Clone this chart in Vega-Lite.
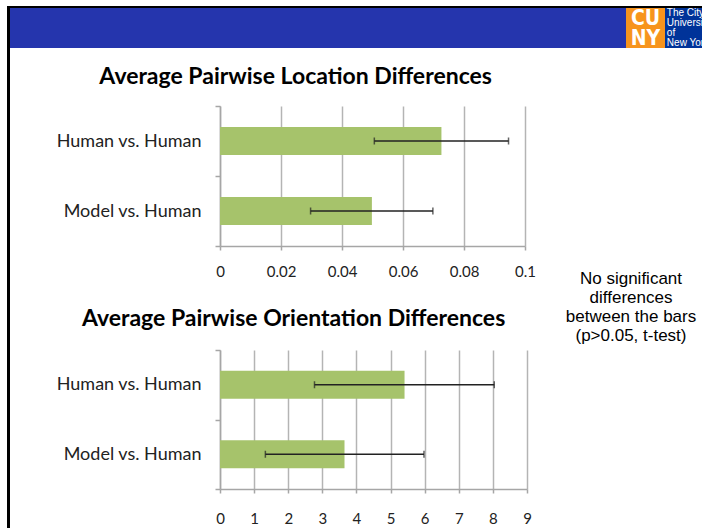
{
  "$schema": "https://vega.github.io/schema/vega-lite/v6.json",
  "padding": {"left": 7, "top": 6, "right": 0, "bottom": 0},
  "background": "white",
  "spacing": 0,
  "datasets": {
    "loc": [
      {"cat": "Human vs. Human", "mean": 0.0726, "lo": 0.0506, "hi": 0.0946},
      {"cat": "Model vs. Human", "mean": 0.0498, "lo": 0.0297, "hi": 0.0698}
    ],
    "ori": [
      {"cat": "Human vs. Human", "mean": 5.41, "lo": 2.77, "hi": 8.04},
      {"cat": "Model vs. Human", "mean": 3.65, "lo": 1.33, "hi": 5.98}
    ]
  },
  "config": {
    "view": {"stroke": null},
    "font": "Lato",
    "axisX": {
      "grid": true, "gridColor": "#b4b4b4", "gridWidth": 1.5,
      "domainColor": "#a6a6a6", "domainWidth": 1.5,
      "tickColor": "#a6a6a6", "tickWidth": 1.5, "tickSize": 4,
      "labelFont": "Lato", "labelFontSize": 15, "labelColor": "#222222", "labelPadding": 14,
      "labelFlush": false, "labelOverlap": false,
      "title": null
    },
    "axisY": {
      "grid": false,
      "domainColor": "#a6a6a6", "domainWidth": 1.5,
      "tickColor": "#a6a6a6", "tickWidth": 1.5, "tickSize": 5, "tickBand": "extent",
      "labelFont": "Lato", "labelFontSize": 18, "labelColor": "#222222", "labelPadding": 14,
      "title": null
    }
  },
  "hconcat": [
    {
      "data": {"values": [{}]},
      "width": 3, "height": 522,
      "mark": {"type": "rect", "color": "black"}
    },
    {
      "spacing": 17,
      "vconcat": [
        {
          "spacing": 0,
          "vconcat": [
            {
              "data": {"values": [{}]},
              "width": 692, "height": 2,
              "mark": {"type": "rect", "color": "black"}
            },
            {
              "spacing": 0,
              "hconcat": [
                {
                  "data": {"values": [{}]},
                  "width": 616, "height": 40,
                  "mark": {"type": "rect", "color": "#2535ad"}
                },
                {
                  "width": 39, "height": 40,
                  "data": {"values": [{"t": "CU\nNY"}]},
                  "layer": [
                    {"mark": {"type": "rect", "color": "#f7941d"}},
                    {
                      "mark": {"type": "text", "font": "DejaVu Sans Condensed", "fontWeight": "bold", "fontSize": 21, "lineHeight": 20, "lineBreak": "\n", "align": "center", "baseline": "top", "color": "white"},
                      "encoding": {
                        "text": {"field": "t"},
                        "x": {"datum": 0.5, "type": "quantitative", "scale": {"domain": [0, 1]}, "axis": null},
                        "y": {"datum": 1, "type": "quantitative", "scale": {"domain": [0, 1]}, "axis": null}
                      }
                    }
                  ]
                },
                {
                  "width": 37, "height": 40,
                  "data": {"values": [{"t": "The City\nUniversity\nof\nNew York"}]},
                  "layer": [
                    {"mark": {"type": "rect", "color": "#003399"}},
                    {
                      "mark": {"type": "text", "font": "Liberation Sans", "fontSize": 10, "lineHeight": 10, "lineBreak": "\n", "align": "left", "baseline": "top", "color": "white", "clip": true},
                      "encoding": {
                        "text": {"field": "t"},
                        "x": {"datum": 0.05, "type": "quantitative", "scale": {"domain": [0, 1]}, "axis": null},
                        "y": {"datum": 1, "type": "quantitative", "scale": {"domain": [0, 1]}, "axis": null}
                      }
                    }
                  ]
                }
              ]
            }
          ]
        },
        {
          "spacing": 0,
          "hconcat": [
            {
              "data": {"values": [{}]},
              "width": 45, "height": 1,
              "mark": {"type": "rect", "color": "white"}
            },
            {
              "spacing": 24,
              "hconcat": [
                {
                  "spacing": 29,
                  "vconcat": [
                    {
                      "data": {"name": "loc"},
                      "width": 305, "height": 140,
                      "title": {"text": "Average Pairwise Location Differences", "font": "Lato", "fontSize": 23, "fontWeight": "bold", "color": "black", "anchor": "middle", "frame": "bounds", "offset": 8},
                      "encoding": {
                        "y": {"field": "cat", "type": "nominal", "sort": null, "scale": {"paddingInner": 0, "paddingOuter": 0}}
                      },
                      "layer": [
                        {
                          "mark": {"type": "bar", "color": "#a6c36b", "size": 28},
                          "encoding": {"x": {"field": "mean", "type": "quantitative", "scale": {"domain": [0, 0.1], "nice": false}, "axis": {"values": [0, 0.02, 0.04, 0.06, 0.08, 0.1], "format": "~g"}}}
                        },
                        {
                          "mark": {"type": "rule", "color": "#222222", "strokeWidth": 1.5},
                          "encoding": {"x": {"field": "lo", "type": "quantitative", "axis": {"values": [0, 0.02, 0.04, 0.06, 0.08, 0.1], "format": "~g"}}, "x2": {"field": "hi"}}
                        },
                        {
                          "mark": {"type": "tick", "color": "#222222", "thickness": 1.5, "size": 7},
                          "encoding": {"x": {"field": "lo", "type": "quantitative", "axis": {"values": [0, 0.02, 0.04, 0.06, 0.08, 0.1], "format": "~g"}}}
                        },
                        {
                          "mark": {"type": "tick", "color": "#222222", "thickness": 1.5, "size": 7},
                          "encoding": {"x": {"field": "hi", "type": "quantitative", "axis": {"values": [0, 0.02, 0.04, 0.06, 0.08, 0.1], "format": "~g"}}}
                        }
                      ]
                    },
                    {
                      "data": {"name": "ori"},
                      "width": 307, "height": 139,
                      "title": {"text": "Average Pairwise Orientation Differences", "font": "Lato", "fontSize": 23, "fontWeight": "bold", "color": "black", "anchor": "middle", "frame": "bounds", "offset": 10},
                      "encoding": {
                        "y": {"field": "cat", "type": "nominal", "sort": null, "scale": {"paddingInner": 0, "paddingOuter": 0}}
                      },
                      "layer": [
                        {
                          "mark": {"type": "bar", "color": "#a6c36b", "size": 28},
                          "encoding": {"x": {"field": "mean", "type": "quantitative", "scale": {"domain": [0, 9], "nice": false}, "axis": {"values": [0, 1, 2, 3, 4, 5, 6, 7, 8, 9], "format": "~g", "labelPadding": 18}}}
                        },
                        {
                          "mark": {"type": "rule", "color": "#222222", "strokeWidth": 1.5},
                          "encoding": {"x": {"field": "lo", "type": "quantitative", "axis": {"values": [0, 1, 2, 3, 4, 5, 6, 7, 8, 9], "format": "~g", "labelPadding": 18}}, "x2": {"field": "hi"}}
                        },
                        {
                          "mark": {"type": "tick", "color": "#222222", "thickness": 1.5, "size": 7},
                          "encoding": {"x": {"field": "lo", "type": "quantitative", "axis": {"values": [0, 1, 2, 3, 4, 5, 6, 7, 8, 9], "format": "~g", "labelPadding": 18}}}
                        },
                        {
                          "mark": {"type": "tick", "color": "#222222", "thickness": 1.5, "size": 7},
                          "encoding": {"x": {"field": "hi", "type": "quantitative", "axis": {"values": [0, 1, 2, 3, 4, 5, 6, 7, 8, 9], "format": "~g", "labelPadding": 18}}}
                        }
                      ]
                    }
                  ]
                },
                {
                  "data": {"values": [{"t": "No significant\ndifferences\nbetween the bars\n(p>0.05, t-test)"}]},
                  "width": 142, "height": 329,
                  "mark": {"type": "text", "font": "Liberation Sans", "fontSize": 17, "lineHeight": 19, "lineBreak": "\n", "align": "center", "baseline": "top", "color": "black"},
                  "encoding": {"text": {"field": "t"}}
                }
              ]
            }
          ]
        }
      ]
    }
  ]
}
